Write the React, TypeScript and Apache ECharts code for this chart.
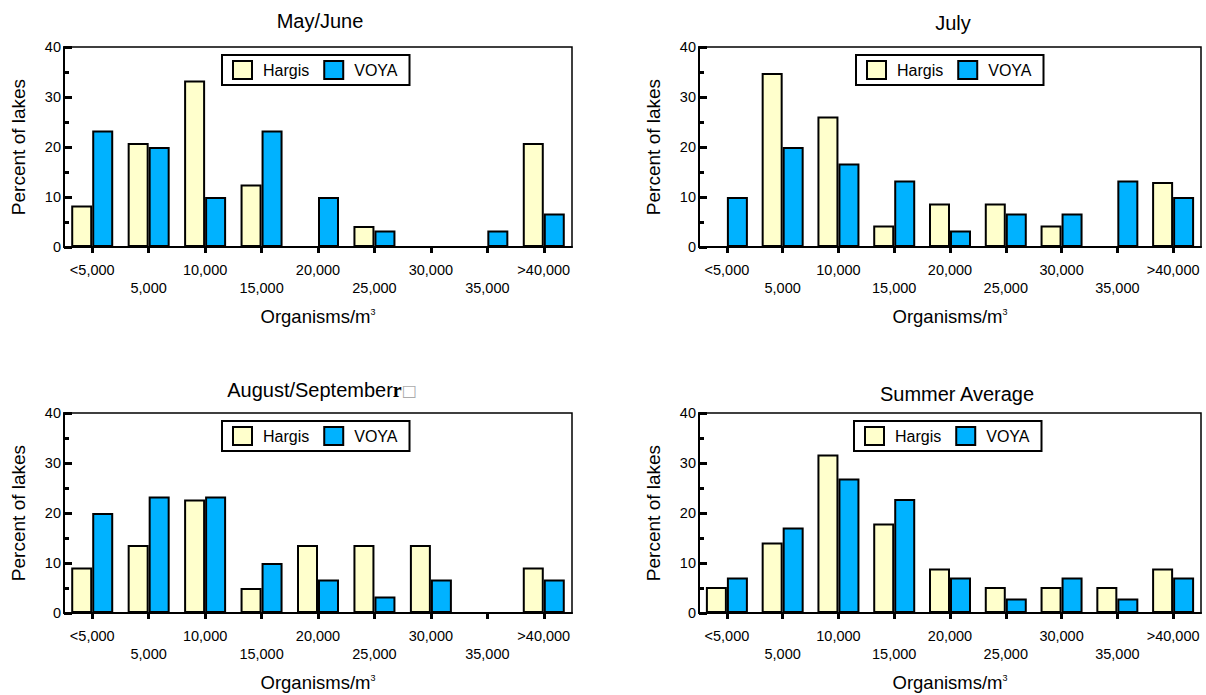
import React, { useEffect, useRef } from "react";
import * as echarts from "echarts";

// Size classes of zooplankton density (organisms per cubic metre)
const categories = ["<5,000", "5,000", "10,000", "15,000", "20,000", "25,000", "30,000", "35,000", ">40,000"];

// Percent of lakes in each density class, per sampling period
const mayJuneHargis = [8.3, 20.8, 33.3, 12.5, 0, 4.2, 0, 0, 20.8];
const mayJuneVoya = [23.3, 20, 10, 23.3, 10, 3.3, 0, 3.3, 6.7];
const julyHargis = [0, 34.8, 26.1, 4.3, 8.7, 8.7, 4.3, 0, 13];
const julyVoya = [10, 20, 16.7, 13.3, 3.3, 6.7, 6.7, 13.3, 10];
const augSepHargis = [9.1, 13.6, 22.7, 5, 13.6, 13.6, 13.6, 0, 9.1];
const augSepVoya = [20, 23.3, 23.3, 10, 6.7, 3.3, 6.7, 0, 6.7];
const summerHargis = [5.2, 14.1, 31.7, 17.9, 8.9, 5.2, 5.2, 5.2, 8.9];
const summerVoya = [7.1, 17.1, 26.9, 22.8, 7.1, 2.9, 7.1, 2.9, 7.1];

const yMin = 0;
const yMax = 40;
const yStep = 10;

const seriesNames = ["Hargis", "VOYA"];
const FONT = "'Liberation Sans', Arial, sans-serif";
const HARGIS_COLOR = "#FFFFCC";
const VOYA_COLOR = "#00B2FF";

type Panel = {
  title: string;
  richTitle?: boolean;
  hargis: number[];
  voya: number[];
  grid: { left: number; top: number; width: number; height: number };
  titleX: number;
  titleTop: number;
  legendLeft: number;
  legendTop: number;
};

const panels: Panel[] = [
  {
    title: "May/June",
    hargis: mayJuneHargis,
    voya: mayJuneVoya,
    grid: { left: 64, top: 47, width: 508, height: 200 },
    titleX: 315,
    titleTop: 6,
    legendLeft: 222,
    legendTop: 55,
  },
  {
    title: "July",
    hargis: julyHargis,
    voya: julyVoya,
    grid: { left: 699, top: 47, width: 502, height: 200 },
    titleX: 948,
    titleTop: 8,
    legendLeft: 856,
    legendTop: 55,
  },
  {
    title: "{a|August/September}{b|r}{c|□}",
    richTitle: true,
    hargis: augSepHargis,
    voya: augSepVoya,
    grid: { left: 64, top: 413, width: 508, height: 200 },
    titleX: 317,
    titleTop: 375,
    legendLeft: 222,
    legendTop: 421,
  },
  {
    title: "Summer Average",
    hargis: summerHargis,
    voya: summerVoya,
    grid: { left: 699, top: 413, width: 502, height: 200 },
    titleX: 952,
    titleTop: 379,
    legendLeft: 854,
    legendTop: 421,
  },
];

function buildOption(): echarts.EChartsOption {
  const titles: any[] = [];
  const legends: any[] = [];
  const grids: any[] = [];
  const xAxes: any[] = [];
  const yAxes: any[] = [];
  const series: any[] = [];

  panels.forEach((p, i) => {
    titles.push({
      text: p.title,
      left: p.titleX,
      top: p.titleTop,
      textAlign: "center",
      textStyle: {
        fontFamily: FONT,
        fontSize: 20,
        fontWeight: "normal",
        color: "#000",
        rich: p.richTitle
          ? {
              a: { fontFamily: FONT, fontSize: 20, color: "#000" },
              b: { fontFamily: "'Liberation Serif', serif", fontWeight: "bold", fontSize: 20, color: "#000" },
              c: { fontFamily: "'DejaVu Sans', sans-serif", fontSize: 16, color: "#aaa" },
            }
          : undefined,
      },
    });

    legends.push({
      left: p.legendLeft,
      top: p.legendTop,
      orient: "horizontal",
      data: seriesNames,
      icon: "rect",
      itemWidth: 19,
      itemHeight: 18,
      itemGap: 14,
      selectedMode: false,
      borderColor: "#000",
      borderWidth: 2,
      padding: [5, 12, 5, 10],
      itemStyle: { borderColor: "#000", borderWidth: 2 },
      textStyle: { fontFamily: FONT, fontSize: 16, color: "#000", padding: [0, 0, 0, 6] },
    });

    grids.push({
      ...p.grid,
      show: true,
      borderColor: "#000",
      borderWidth: 1.5,
      backgroundColor: "transparent",
      containLabel: false,
    });

    xAxes.push({
      type: "category",
      gridIndex: i,
      data: categories,
      axisLine: { show: true, lineStyle: { color: "#000", width: 2 } },
      axisTick: { show: true, alignWithLabel: true, length: 6, lineStyle: { color: "#000", width: 3 } },
      axisLabel: {
        interval: 0,
        margin: 14,
        fontFamily: FONT,
        fontSize: 14.5,
        lineHeight: 18,
        color: "#000",
        formatter: (value: string, index: number) => (index % 2 === 1 ? "\n" + value : value),
      },
      name: "Organisms/m{sup|3}",
      nameLocation: "middle",
      nameGap: 60,
      nameTextStyle: {
        fontFamily: FONT,
        fontSize: 18.5,
        color: "#000",
        rich: {
          sup: { fontFamily: FONT, fontSize: 9, color: "#000", verticalAlign: "top", padding: [0, 0, 8, 0] },
        },
      },
    });

    yAxes.push({
      type: "value",
      gridIndex: i,
      min: yMin,
      max: yMax,
      interval: yStep,
      splitLine: { show: false },
      axisLine: { show: true, lineStyle: { color: "#000", width: 2 } },
      axisTick: { show: true, inside: true, length: 8, lineStyle: { color: "#000", width: 3 } },
      minorTick: { show: true, splitNumber: 2, length: 5, lineStyle: { color: "#000", width: 3 } },
      minorSplitLine: { show: false },
      axisLabel: { fontFamily: FONT, fontSize: 14.5, color: "#000", margin: 3 },
      name: "Percent of lakes",
      nameLocation: "middle",
      nameRotate: 90,
      nameGap: 36,
      nameTextStyle: { fontFamily: FONT, fontSize: 19, color: "#000" },
    });

    const common = {
      type: "bar",
      xAxisIndex: i,
      yAxisIndex: i,
      barWidth: 21,
      barGap: "0%",
    };
    series.push({
      ...common,
      name: "Hargis",
      data: p.hargis,
      itemStyle: { color: HARGIS_COLOR, borderColor: "#000", borderWidth: 2 },
    });
    series.push({
      ...common,
      name: "VOYA",
      data: p.voya,
      itemStyle: { color: VOYA_COLOR, borderColor: "#000", borderWidth: 2 },
    });
  });

  return {
    animation: false,
    backgroundColor: "#fff",
    title: titles,
    legend: legends,
    grid: grids,
    xAxis: xAxes,
    yAxis: yAxes,
    series,
  } as echarts.EChartsOption;
}

export default function App() {
  const ref = useRef<HTMLDivElement>(null);

  useEffect(() => {
    if (!ref.current) return;
    const chart = echarts.init(ref.current, undefined, { renderer: "svg" });
    chart.setOption(buildOption());
    return () => chart.dispose();
  }, []);

  return (
    <div
      ref={ref}
      style={{ position: "fixed", left: 0, top: 0, width: 1206, height: 695, background: "#fff" }}
    />
  );
}
